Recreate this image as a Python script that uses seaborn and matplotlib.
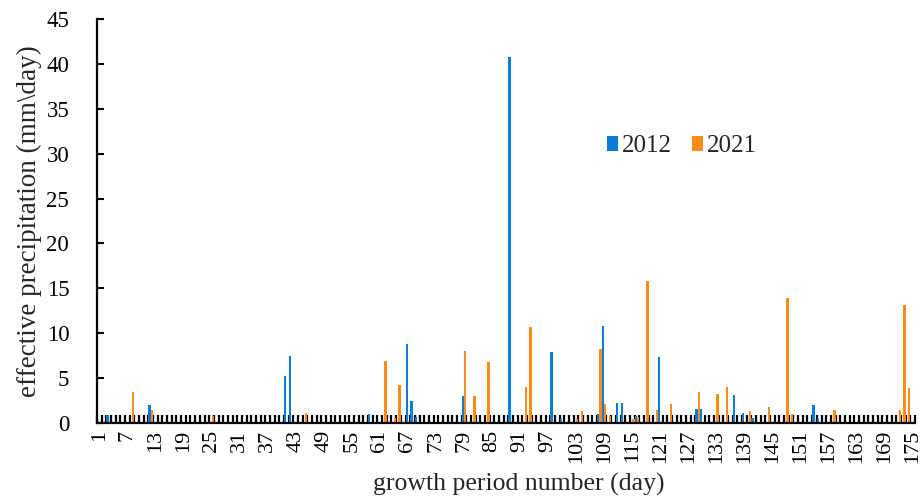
import numpy as np
import pandas as pd
import matplotlib
matplotlib.use("Agg")
import matplotlib.pyplot as plt
from matplotlib.patches import Patch
from matplotlib.ticker import FixedLocator
import seaborn as sns

# ---- data ----
days = list(range(1, 176))
tick_labels = [str(d) for d in range(1, 176, 6)]

days_2012 = [3, 12, 41, 42, 59, 67, 68, 69, 79, 89, 98, 100, 108, 109, 112, 113,
             116, 121, 129, 130, 137, 139, 141, 154, 155]
vals_2012 = [0.9, 2.0, 5.2, 7.5, 1.0, 8.8, 2.5, 0.7, 3.0, 40.8, 7.9, 0.5, 1.0, 10.8,
             2.2, 2.2, 0.8, 7.4, 1.6, 1.6, 3.1, 1.1, 0.6, 2.0, 0.5]

days_2021 = [8, 12, 25, 45, 62, 64, 65, 79, 81, 84, 92, 93, 103, 104, 108, 109, 110,
             115, 116, 118, 120, 123, 129, 133, 135, 140, 144, 148, 149, 158, 172, 173, 174]
vals_2021 = [3.5, 1.4, 0.8, 1.1, 6.9, 0.6, 4.2, 8.0, 3.0, 6.8, 4.0, 10.7, 0.4, 1.3,
             8.2, 2.1, 0.8, 0.5, 0.7, 15.8, 1.5, 2.1, 3.5, 3.2, 4.0, 1.3, 1.8, 13.9,
             1.0, 1.4, 1.4, 13.1, 3.9]

series = ["2012", "2021"]
colors = {"2012": "#0A7DD6", "2021": "#FF8C1A"}

# build long table
s2012 = dict(zip(days_2012, vals_2012))
s2021 = dict(zip(days_2021, vals_2021))
rows = []
for d in days:
    rows.append({"day": str(d), "year": "2012", "value": s2012.get(d, 0.0)})
    rows.append({"day": str(d), "year": "2021", "value": s2021.get(d, 0.0)})
df = pd.DataFrame(rows)

sns.set_theme(style="ticks")
plt.rcParams["font.family"] = ["Liberation Serif", "DejaVu Serif"]

fig = plt.figure(figsize=(9.21, 5.03), dpi=100)
ax = fig.add_axes([97 / 921, 80 / 503, 818 / 921, 404 / 503])

sns.barplot(data=df, x="day", y="value", hue="year", order=[str(d) for d in days],
            hue_order=series, palette=colors, width=1.0, dodge=True,
            errorbar=None, saturation=1, ax=ax, legend=False, linewidth=0)

ax.set_axisbelow(True)
ax.set_xlim(-0.5, 174.5)
ax.set_ylim(0, 45)
ax.set_yticks(np.arange(0, 46, 5))
ax.tick_params(axis="y", direction="in", length=5, width=1.5, labelsize=16.5,
               colors="black", pad=20)

ax.xaxis.set_major_locator(FixedLocator(np.arange(0, 175, 6)))
ax.set_xticklabels(tick_labels, rotation=90)
ax.xaxis.set_minor_locator(FixedLocator(np.arange(-0.5, 175, 1)))
ax.tick_params(axis="x", which="major", length=0, labelsize=16, pad=5, colors="black")
ax.tick_params(axis="x", which="minor", direction="in", length=5.5, width=1.6, color="black")

for sp in ["top", "right"]:
    ax.spines[sp].set_visible(False)
for sp in ["left", "bottom"]:
    ax.spines[sp].set_linewidth(1.6)
    ax.spines[sp].set_color("black")

ax.set_xlabel("growth period number (day)", fontsize=18.5)
ax.xaxis.set_label_coords(0.516, -0.124)
ax.set_ylabel("effective precipitation (mm\\day)", fontsize=19.5, labelpad=3)

handles = [Patch(facecolor=colors[s], edgecolor="none", label=s) for s in series]
ax.legend(handles=handles, loc="center left", bbox_to_anchor=(0.608, 0.685),
          ncol=2, frameon=False, fontsize=18, handlelength=0.45, handleheight=0.6,
          handletextpad=0.15, columnspacing=0.8, borderpad=0)

fig.savefig("out.png", dpi=100)
